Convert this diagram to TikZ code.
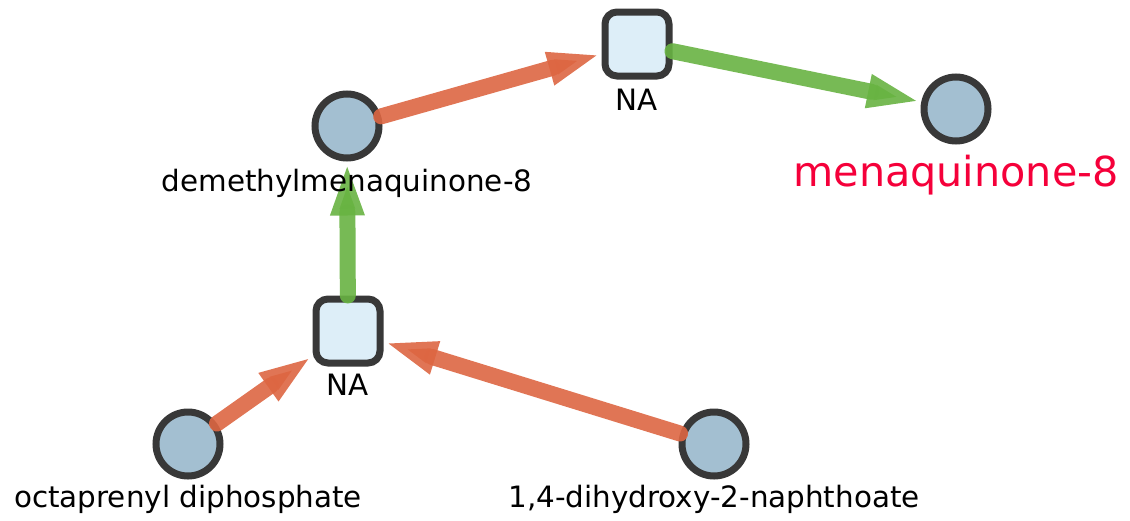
\documentclass[tikz,border=0pt]{standalone}
\usepackage{fontspec}
\setmainfont{DejaVu Sans}
\usetikzlibrary{arrows.meta}
\definecolor{circfill}{HTML}{A3BFD1}
\definecolor{sqfill}{HTML}{DDEEF8}
\definecolor{bord}{HTML}{383838}
\definecolor{orng}{HTML}{DD6642}
\definecolor{grn}{HTML}{68B342}
\definecolor{redlab}{HTML}{F5003A}
\begin{document}
\begin{tikzpicture}[x=1pt,y=-1pt,
 metab/.style={circle, draw=bord, fill=circfill, line width=7pt, minimum size=64pt, inner sep=0pt},
 rxn/.style={rectangle, rounded corners=12pt, draw=bord, fill=sqfill, line width=7pt, minimum size=64pt, inner sep=0pt},
 lab/.style={anchor=base, font=\fontsize{29.4}{35}\selectfont, text=black, inner sep=0pt},
 edge/.style={line width=16pt, line cap=round, -{Triangle[length=54pt,width=30pt]}, draw opacity=0.9, fill opacity=0.9}]
\useasboundingbox (0,0) rectangle (1130,520);
\node[rxn] (r1) at (637,44) {};
\node[metab] (m8) at (956,109) {};
\node[metab] (dm) at (347,126) {};
\node[rxn] (r2) at (348,331) {};
\node[metab] (op) at (188,444) {};
\node[metab] (dh) at (714,444) {};
\draw[edge, orng] (dm) -- (r1);
\draw[edge, grn] (r1) -- (m8);
\draw[edge, grn] (r2) -- (dm);
\draw[edge, orng] (op) -- (r2);
\draw[edge, orng] (dh) -- (r2);
\node[lab] (r1l) at (637,110) {NA};
\node[lab] (dml) at (347,191) {demethylmenaquinone-8};
\node[lab, font=\fontsize{41.3}{48}\selectfont, text=redlab] (m8l) at (956,186) {menaquinone-8};
\node[lab] (r2l) at (348,395) {NA};
\node[lab] (opl) at (188,507) {octaprenyl diphosphate};
\node[lab] (dhl) at (714,507) {1,4-dihydroxy-2-naphthoate};
\end{tikzpicture}
\end{document}
